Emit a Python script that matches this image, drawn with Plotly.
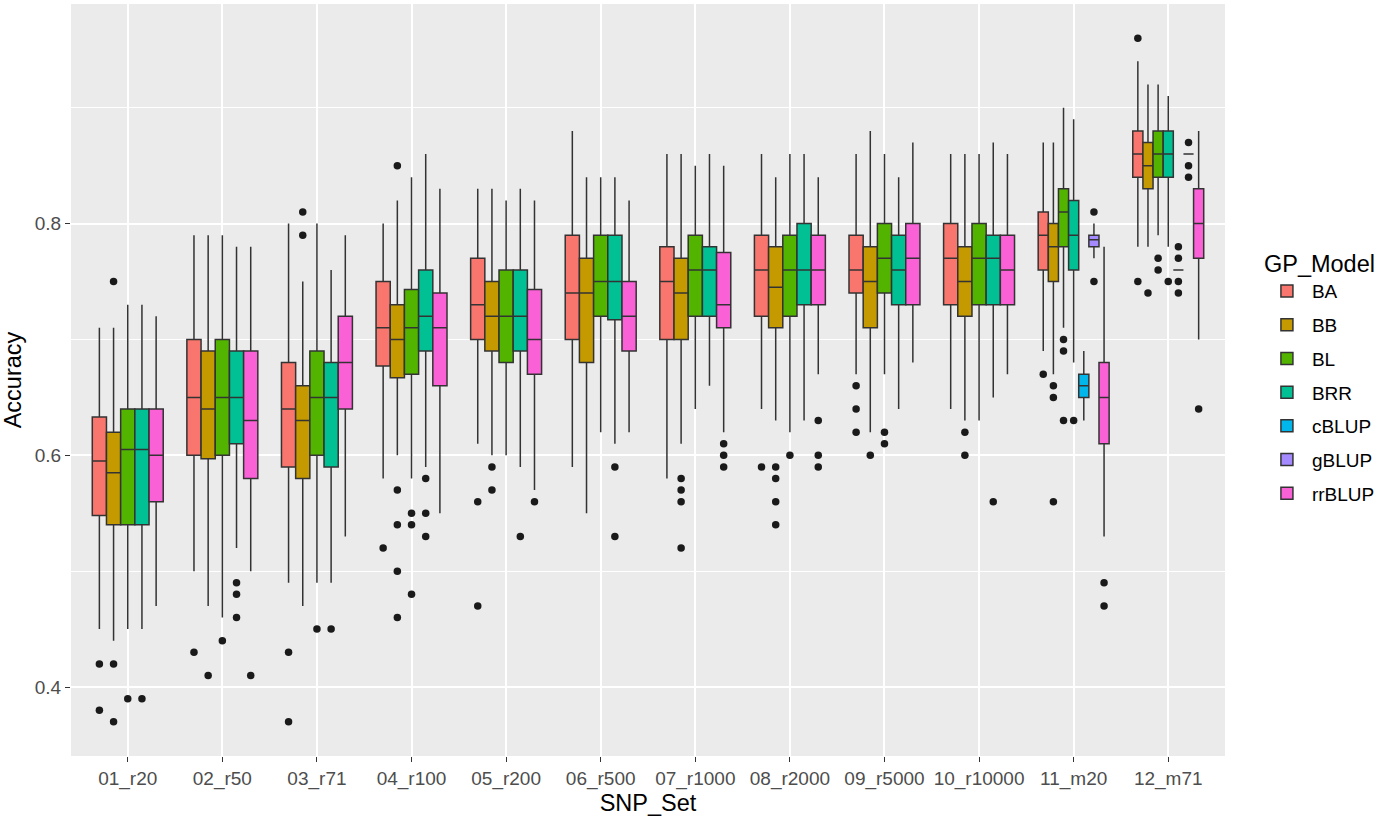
import plotly.graph_objects as go

categories = ["01_r20", "02_r50", "03_r71", "04_r100", "05_r200", "06_r500",
              "07_r1000", "08_r2000", "09_r5000", "10_r10000", "11_m20", "12_m71"]
models = ["BA", "BB", "BL", "BRR", "cBLUP", "gBLUP", "rrBLUP"]
model_colors = ["#F8766D", "#C49A00", "#53B400", "#00C094", "#00B6EB", "#A58AFF", "#FB61D7"]

# ---- BA ----
BA_lo = [0.45, 0.50, 0.49, 0.58, 0.61, 0.59, 0.58, 0.64, 0.67, 0.64, 0.69, 0.78]
BA_q1 = [0.548, 0.60, 0.59, 0.677, 0.70, 0.70, 0.70, 0.72, 0.74, 0.73, 0.76, 0.84]
BA_med = [0.595, 0.65, 0.64, 0.71, 0.73, 0.74, 0.75, 0.76, 0.76, 0.77, 0.79, 0.86]
BA_q3 = [0.633, 0.70, 0.68, 0.75, 0.77, 0.79, 0.78, 0.79, 0.79, 0.80, 0.81, 0.88]
BA_hi = [0.71, 0.79, 0.80, 0.80, 0.83, 0.88, 0.86, 0.86, 0.86, 0.86, 0.87, 0.94]
BA_out = [[0.42, 0.38], [0.43], [0.43, 0.37], [0.52], [0.56, 0.47], [], [], [0.59],
          [0.66, 0.64, 0.62], [], [0.67], [0.96, 0.75]]

# ---- BB ----
BB_lo = [0.44, 0.47, 0.47, 0.60, 0.60, 0.55, 0.61, 0.63, 0.62, 0.63, 0.67, 0.78]
BB_q1 = [0.54, 0.597, 0.58, 0.667, 0.69, 0.68, 0.70, 0.71, 0.71, 0.72, 0.75, 0.83]
BB_med = [0.585, 0.64, 0.63, 0.70, 0.72, 0.74, 0.74, 0.745, 0.75, 0.75, 0.78, 0.85]
BB_q3 = [0.62, 0.69, 0.66, 0.73, 0.75, 0.77, 0.77, 0.78, 0.78, 0.78, 0.80, 0.87]
BB_hi = [0.71, 0.79, 0.75, 0.82, 0.83, 0.84, 0.86, 0.84, 0.88, 0.86, 0.87, 0.92]
BB_out = [[0.75, 0.42, 0.37], [0.41], [0.81, 0.79], [0.85, 0.57, 0.54, 0.50, 0.46],
          [0.59, 0.57], [], [0.58, 0.57, 0.56, 0.52], [0.59, 0.58, 0.56, 0.54],
          [0.60], [0.62, 0.60], [0.66, 0.65, 0.56], [0.74]]

# ---- BL ----
BL_lo = [0.45, 0.46, 0.49, 0.58, 0.60, 0.62, 0.64, 0.62, 0.67, 0.63, 0.71, 0.79]
BL_q1 = [0.54, 0.60, 0.60, 0.67, 0.68, 0.72, 0.72, 0.72, 0.74, 0.73, 0.78, 0.84]
BL_med = [0.605, 0.65, 0.65, 0.71, 0.72, 0.75, 0.76, 0.76, 0.77, 0.77, 0.81, 0.86]
BL_q3 = [0.64, 0.70, 0.69, 0.743, 0.76, 0.79, 0.79, 0.79, 0.80, 0.80, 0.83, 0.88]
BL_hi = [0.73, 0.79, 0.80, 0.84, 0.82, 0.84, 0.85, 0.86, 0.86, 0.86, 0.90, 0.92]
BL_out = [[0.39], [0.44], [0.45], [0.55, 0.54, 0.48], [], [], [], [0.60],
          [0.62, 0.61], [], [0.70, 0.69, 0.63], [0.77, 0.76]]

# ---- BRR ----
BRR_lo = [0.45, 0.52, 0.49, 0.59, 0.59, 0.61, 0.66, 0.63, 0.64, 0.65, 0.68, 0.78]
BRR_q1 = [0.54, 0.61, 0.59, 0.69, 0.69, 0.717, 0.72, 0.73, 0.73, 0.73, 0.76, 0.84]
BRR_med = [0.605, 0.65, 0.65, 0.72, 0.72, 0.75, 0.76, 0.76, 0.76, 0.77, 0.79, 0.86]
BRR_q3 = [0.64, 0.69, 0.68, 0.76, 0.76, 0.79, 0.78, 0.80, 0.79, 0.79, 0.82, 0.88]
BRR_hi = [0.73, 0.78, 0.76, 0.86, 0.83, 0.84, 0.86, 0.86, 0.84, 0.87, 0.89, 0.91]
BRR_out = [[0.39], [0.49, 0.48, 0.46], [0.45], [0.58, 0.55, 0.53], [0.53], [0.59, 0.53],
           [], [], [], [0.56], [0.63], [0.75]]

# ---- cBLUP (only marker sets) ----
cBLUP_lo = [None] * 10 + [0.63, 0.76]
cBLUP_q1 = [None] * 10 + [0.65, 0.76]
cBLUP_med = [None] * 10 + [0.66, 0.76]
cBLUP_q3 = [None] * 10 + [0.67, 0.76]
cBLUP_hi = [None] * 10 + [0.69, 0.76]
cBLUP_out = [[]] * 10 + [[], [0.78, 0.77, 0.75, 0.74]]

# ---- gBLUP (only marker sets) ----
gBLUP_lo = [None] * 10 + [0.77, 0.86]
gBLUP_q1 = [None] * 10 + [0.78, 0.86]
gBLUP_med = [None] * 10 + [0.786, 0.86]
gBLUP_q3 = [None] * 10 + [0.79, 0.86]
gBLUP_hi = [None] * 10 + [0.80, 0.86]
gBLUP_out = [[]] * 10 + [[0.81, 0.75], [0.87, 0.85, 0.84]]

# ---- rrBLUP ----
rrBLUP_lo = [0.47, 0.50, 0.53, 0.55, 0.57, 0.62, 0.62, 0.67, 0.68, 0.67, 0.53, 0.70]
rrBLUP_q1 = [0.56, 0.58, 0.64, 0.66, 0.67, 0.69, 0.71, 0.73, 0.73, 0.73, 0.61, 0.77]
rrBLUP_med = [0.60, 0.63, 0.68, 0.71, 0.70, 0.72, 0.73, 0.76, 0.77, 0.76, 0.65, 0.80]
rrBLUP_q3 = [0.64, 0.69, 0.72, 0.74, 0.743, 0.75, 0.775, 0.79, 0.80, 0.79, 0.68, 0.83]
rrBLUP_hi = [0.72, 0.78, 0.79, 0.83, 0.82, 0.82, 0.85, 0.84, 0.87, 0.86, 0.78, 0.88]
rrBLUP_out = [[], [0.41], [], [], [0.56], [], [0.61, 0.60, 0.59], [0.63, 0.60, 0.59],
              [], [], [0.49, 0.47], [0.64]]

stats = {
    "BA": (BA_lo, BA_q1, BA_med, BA_q3, BA_hi, BA_out),
    "BB": (BB_lo, BB_q1, BB_med, BB_q3, BB_hi, BB_out),
    "BL": (BL_lo, BL_q1, BL_med, BL_q3, BL_hi, BL_out),
    "BRR": (BRR_lo, BRR_q1, BRR_med, BRR_q3, BRR_hi, BRR_out),
    "cBLUP": (cBLUP_lo, cBLUP_q1, cBLUP_med, cBLUP_q3, cBLUP_hi, cBLUP_out),
    "gBLUP": (gBLUP_lo, gBLUP_q1, gBLUP_med, gBLUP_q3, gBLUP_hi, gBLUP_out),
    "rrBLUP": (rrBLUP_lo, rrBLUP_q1, rrBLUP_med, rrBLUP_q3, rrBLUP_hi, rrBLUP_out),
}

DODGE = 0.75
# dodge positions per category
positions = {m: [None] * len(categories) for m in models}
widths = [None] * len(categories)
for g in range(len(categories)):
    present = [m for m in models if stats[m][2][g] is not None]
    n = len(present)
    w = DODGE / n
    widths[g] = w
    for k, m in enumerate(present):
        positions[m][g] = (g + 1) + (k - (n - 1) / 2) * w

fig = go.Figure()
out_x, out_y = [], []
for m, col in zip(models, model_colors):
    lo, q1, med, q3, hi, out = stats[m]
    first = True
    for w in sorted(set(widths)):
        idx = [g for g in range(len(categories)) if widths[g] == w and med[g] is not None]
        if not idx:
            continue
        fig.add_trace(go.Box(
            x=[positions[m][g] for g in idx],
            q1=[q1[g] for g in idx], median=[med[g] for g in idx], q3=[q3[g] for g in idx],
            lowerfence=[lo[g] for g in idx], upperfence=[hi[g] for g in idx],
            width=w, whiskerwidth=0, fillcolor=col,
            line=dict(color="#333333", width=1.5),
            name=m, legendgroup=m, showlegend=first, boxpoints=False,
        ))
        first = False
    for g in range(len(categories)):
        for v in out[g]:
            out_x.append(positions[m][g])
            out_y.append(v)

fig.add_trace(go.Scatter(x=out_x, y=out_y, mode="markers", showlegend=False,
                         marker=dict(color="#1A1A1A", size=7.5)))

FONT = "Liberation Sans, Arial, sans-serif"
fig.update_layout(
    width=1386, height=820,
    margin=dict(l=71, r=161, t=4, b=64),
    paper_bgcolor="white", plot_bgcolor="#EBEBEB",
    font=dict(family=FONT, color="black"),
    boxmode="overlay",
    legend=dict(
        title=dict(text="GP_Model", font=dict(size=23.5, color="black")),
        font=dict(size=19, color="black"),
        x=1.032, xanchor="left", y=0.684, yanchor="top",
        tracegroupgap=6, itemwidth=40, bgcolor="rgba(0,0,0,0)",
    ),
    xaxis=dict(
        range=[0.4, 12.6], tickmode="array", tickvals=list(range(1, len(categories) + 1)),
        ticktext=categories, showgrid=True, gridcolor="white", gridwidth=1.7,
        zeroline=False, ticks="outside", ticklen=5, tickcolor="#333333", tickwidth=1.2,
        tickfont=dict(size=19, color="#4D4D4D"),
        title=dict(text="SNP_Set", font=dict(size=23.5, color="black"), standoff=4),
        showline=False,
    ),
    yaxis=dict(
        range=[0.3405, 0.9895], tickmode="array", tickvals=[0.4, 0.6, 0.8],
        ticktext=["0.4", "0.6", "0.8"], showgrid=True, gridcolor="white", gridwidth=1.7,
        minor=dict(tickvals=[0.5, 0.7, 0.9], showgrid=True, gridcolor="white", gridwidth=0.8, ticks=""),
        zeroline=False, ticks="outside", ticklen=5, tickcolor="#333333", tickwidth=1.2,
        tickfont=dict(size=19, color="#4D4D4D"),
        title=dict(text="Accuracy", font=dict(size=23.5, color="black"), standoff=6),
        showline=False,
    ),
)

fig.write_html("out.html", config={"displayModeBar": False},
               post_script="document.body.style.margin='0';document.body.style.overflow='hidden';")
